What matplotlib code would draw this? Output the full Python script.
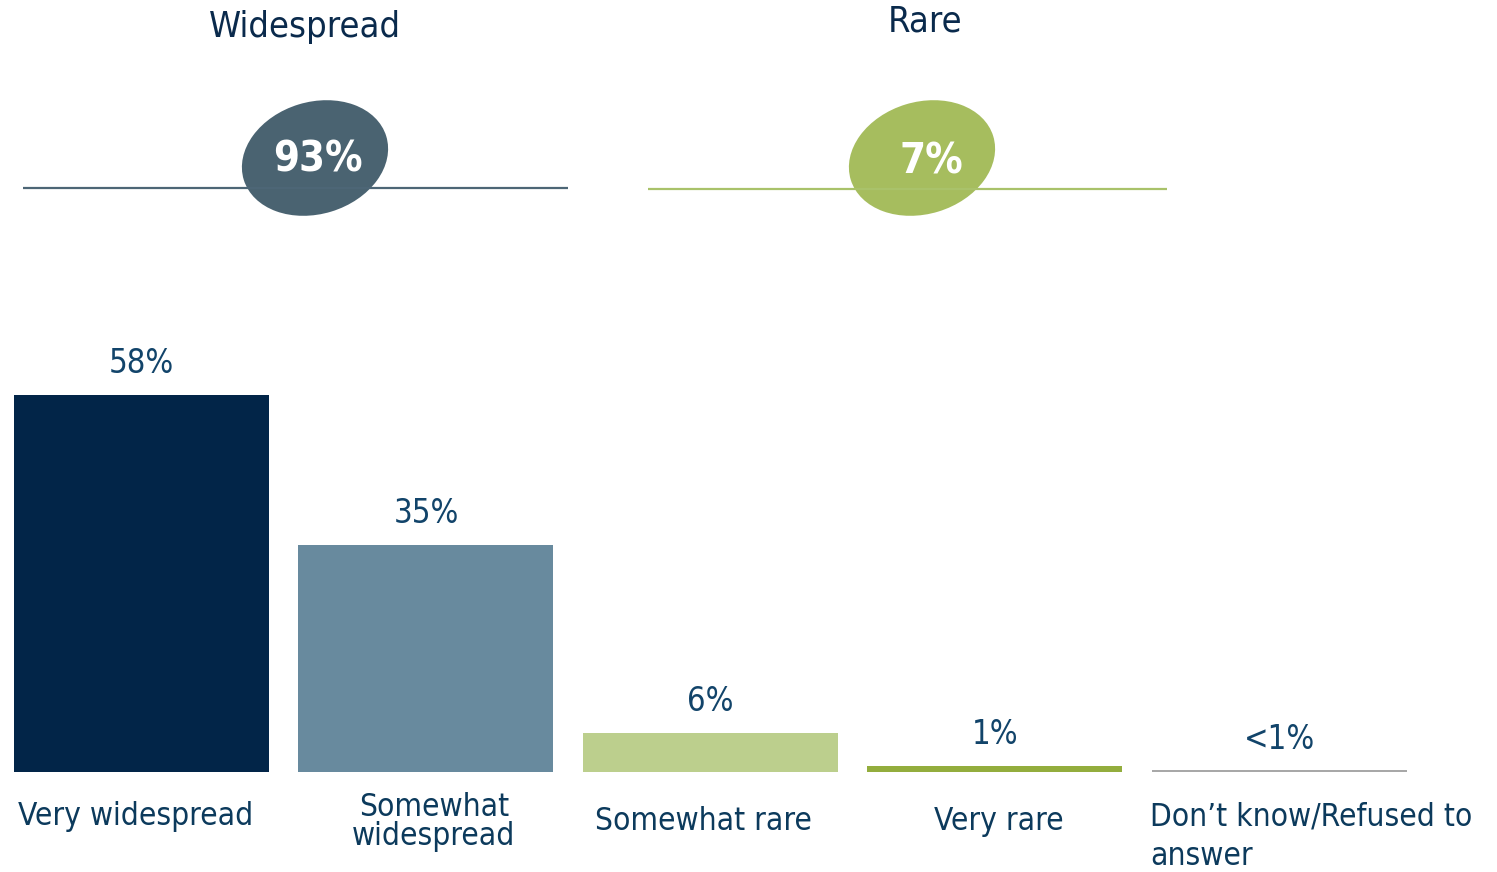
import os
import matplotlib
matplotlib.use("Agg")
from matplotlib import pyplot as plt
from matplotlib import font_manager
from matplotlib.patches import Ellipse

# data
categories = ["Very widespread", "Somewhat\nwidespread", "Somewhat rare", "Very rare",
              "Don\u2019t know/Refused to\nanswer"]
values = [58, 35, 6, 1, 0.3]
value_labels = ["58%", "35%", "6%", "1%", "<1%"]
groups = ["Widespread", "Rare"]
group_labels = ["93%", "7%"]

bar_colors = ["#022548", "#688a9e", "#bccf8d", "#93ad3d", "#a8a8a8"]
group_colors = ["#4a6371", "#a6bd5e"]
line_colors = ["#4d6676", "#a9c26a"]


def pick_font(size, bold=False):
    want = "DejaVuSansCondensed-Bold.ttf" if bold else "DejaVuSansCondensed.ttf"
    for f in font_manager.fontManager.ttflist:
        if os.path.basename(f.fname) == want:
            fp = font_manager.FontProperties(fname=f.fname)
            fp.set_size(size)
            return fp
    # no condensed face: shrink the normal one a bit
    fp = font_manager.FontProperties(family="DejaVu Sans",
                                     weight="bold" if bold else "normal")
    fp.set_size(size * 0.9)
    return fp


W, H = 1497, 872
fig = plt.figure(figsize=(W / 100, H / 100), dpi=100)

# bar axes: bar pitch 284.5 px, first centre at 141.5 px, baseline at 772 px, 6.5 px per %
ax = fig.add_axes([0, 0, 1, 1])
pitch = 284.5
ax.set_xlim(-141.5 / pitch, (W - 141.5) / pitch)
ax.set_ylim(-(H - 772) / 6.5, 772 / 6.5)
ax.axis("off")

x = list(range(len(values)))
ax.bar(x, values, width=255 / pitch, color=bar_colors)

val_font = pick_font(23.5)
for i, (v, lab) in enumerate(zip(values, value_labels)):
    ax.annotate(lab, (i, v), xytext=(0, 15.5), textcoords="offset points",
                ha="center", va="baseline", color="#12446a", fontproperties=val_font)

cat_font = pick_font(22.7)
# x shift (px) and vertical centre below baseline (px) of each category label
cat_dx = [-6, 8, -7, 4, None]
cat_dy = [44, 50, 49, 49, 65]
for i, lab in enumerate(categories):
    if cat_dx[i] is None:
        # last label starts at the bar's left edge and runs past it
        ax.annotate(lab, (i - 127.5 / pitch, 0), xytext=(-2 * 0.72, -cat_dy[i] * 0.72),
                    textcoords="offset points", ha="left", va="center",
                    linespacing=1.35, color="#0c3a5c", fontproperties=cat_font)
    else:
        ax.annotate(lab, (i, 0), xytext=(cat_dx[i] * 0.72, -cat_dy[i] * 0.72),
                    textcoords="offset points", ha="center", va="center",
                    linespacing=0.92, color="#0c3a5c", fontproperties=cat_font)

# header overlay in pixel units
hx = fig.add_axes([0, 0, 1, 1], zorder=3)
hx.set_xlim(0, W)
hx.set_ylim(H, 0)
hx.axis("off")
hx.patch.set_alpha(0)

title_font = pick_font(26)
big_font = pick_font(30, bold=True)

line_spans = [(23, 568, 188), (648, 1167, 189)]
ell_centres = [(315, 158), (922, 158)]
title_pos = [(305, 27), (925, 22)]
num_pos = [(318, 160), (931, 162)]

for g in range(len(groups)):
    x0, x1, y = line_spans[g]
    hx.plot([x0, x1], [y, y], color=line_colors[g], lw=1.6, solid_capstyle="butt")
    hx.add_patch(Ellipse(ell_centres[g], 149, 112, angle=-17, color=group_colors[g], lw=0))
    hx.text(*title_pos[g], groups[g], ha="center", va="center", color="#0a2a4c",
            fontproperties=title_font)
    hx.text(*num_pos[g], group_labels[g], ha="center", va="center", color="white",
            fontproperties=big_font)

fig.savefig("out.png", dpi=100, facecolor="white")
